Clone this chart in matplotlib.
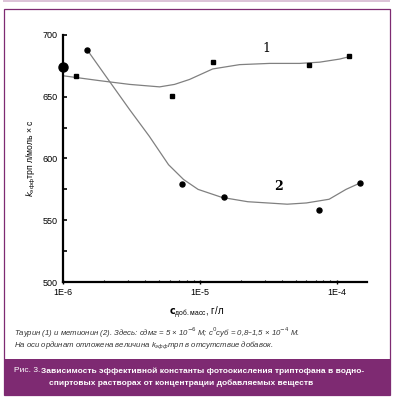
import numpy as np
import matplotlib
matplotlib.use('Agg')
import matplotlib.pyplot as plt
from matplotlib.patches import Rectangle

# ---------------------------------------------------------- data
taurine_c = [1.24e-6, 6.25e-6, 1.24e-5, 6.25e-5, 1.24e-4]
taurine_k = [667, 651, 678, 676, 683]

methionine_c = [1.5e-6, 7.4e-6, 1.5e-5, 7.4e-5, 1.47e-4]
methionine_k = [688, 579, 569, 558, 580]

# hand-drawn trend curves
trend1_c = [1.0e-6, 1.86e-6, 3.07e-6, 5.08e-6, 6.53e-6, 8.4e-6, 1.24e-5,
            1.95e-5, 3.23e-5, 5.35e-5, 7.5e-5, 1.05e-4, 1.24e-4]
trend1_k = [667, 663, 660, 658, 660, 664, 672.5, 676, 677, 677, 678, 680.5, 682.5]

trend2_c = [1.5e-6, 2.2e-6, 3.07e-6, 4.27e-6, 5.9e-6, 7.6e-6, 9.7e-6, 1.45e-5,
            2.24e-5, 3.13e-5, 4.35e-5, 6.0e-5, 8.8e-5, 1.17e-4, 1.47e-4]
trend2_k = [688, 662, 639.5, 618, 595, 583, 575, 568.5, 565, 564, 563, 564, 567, 575, 580]

k_no_additive = 674
x_ticks = [1e-6, 1e-5, 1e-4]
x_tick_labels = ['1E-6', '1E-5', '1E-4']
y_ticks = [500, 550, 600, 650, 700]

purple = '#7e2a72'
sans = ['Liberation Sans', 'DejaVu Sans']

fig = plt.figure(figsize=(3.94, 4.0), dpi=100)

# ---------------------------------------------------------- frame and caption band
fig.patches.append(Rectangle((0.008, 0.996), 0.982, 0.004, transform=fig.transFigure,
                             facecolor='#dcc3d8', edgecolor='none'))
fig.patches.append(Rectangle((0.010, 0.0125), 0.980, 0.965, transform=fig.transFigure,
                             facecolor='none', edgecolor=purple, lw=0.9))
fig.patches.append(Rectangle((0.010, 0.0125), 0.980, 0.09, transform=fig.transFigure,
                             facecolor=purple, edgecolor='none'))

ax = fig.add_axes([0.160, 0.295, 0.771, 0.6175])

ax.plot(trend1_c, trend1_k, color='#808080', lw=0.9)
ax.plot(trend2_c, trend2_k, color='#808080', lw=0.9)

ax.plot(taurine_c, taurine_k, 's', color='black', ms=3.2)
ax.plot(methionine_c, methionine_k, 'o', color='black', ms=3.6)
ax.plot([1e-6], [k_no_additive], 'o', color='black', ms=6.5, clip_on=False, zorder=5)

ax.text(3.08e-5, 689, '1', family='DejaVu Serif', fontsize=9, ha='center', va='center')
ax.text(3.78e-5, 577, '2', family='DejaVu Serif', fontsize=9, fontweight='bold',
        ha='center', va='center')

# ---------------------------------------------------------- axes
ax.set_xscale('log')
ax.set_xlim(1e-6, 1.66e-4)
ax.set_ylim(500, 700)
ax.set_xticks(x_ticks)
ax.set_xticklabels(x_tick_labels, family=sans, fontsize=6.5)
ax.set_yticks(y_ticks)
ax.set_yticklabels([str(v) for v in y_ticks], family=sans, fontsize=6.5)
ax.set_yticks([525, 575, 625, 675], minor=True)
ax.tick_params(axis='y', which='both', direction='in', length=3, width=1.2, pad=4)
ax.tick_params(axis='x', which='major', direction='inout', length=3, width=1.0, pad=3)
ax.tick_params(axis='x', which='minor', direction='in', length=1.5, width=0.8)
for s in ['top', 'right']:
    ax.spines[s].set_visible(False)
ax.spines['left'].set_linewidth(1.6)
ax.spines['bottom'].set_linewidth(1.6)

ax.set_ylabel(r'$k_{\mathregular{эфф}}$трп л/моль × с', family=sans, fontsize=6.2, labelpad=3)
ax.set_xlabel(r'$\mathbf{c}_{\mathregular{доб.масс}}$, г/л', family=sans, fontsize=7,
              labelpad=9)
ax.xaxis.set_label_coords(0.44, -0.09)

# ---------------------------------------------------------- notes and caption
note_kw = dict(family=sans, style='italic', fontsize=5.6, color='#333333', va='center')
fig.text(0.036, 0.168, 'Таурин (1) и метионин (2). Здесь: сдмг = 5 × 10$^{-6}$ М; '
         'с$^{0}$суб = 0,8–1,5 × 10$^{-4}$ М.', **note_kw)
fig.text(0.036, 0.134, 'На оси ординат отложена величина k$_{эфф}$трп в отсутствие добавок.',
         **note_kw)

fig.text(0.036, 0.073, 'Рис. 3.', family=sans, fontsize=6, color='white', va='center')
fig.text(0.103, 0.073, 'Зависимость эффективной константы фотоокисления триптофана в водно-',
         family=sans, fontsize=6.0, fontweight='bold', color='white', va='center')
fig.text(0.124, 0.042, 'спиртовых растворах от концентрации добавляемых веществ',
         family=sans, fontsize=6.0, fontweight='bold', color='white', va='center')

fig.savefig('out.png', dpi=100)
